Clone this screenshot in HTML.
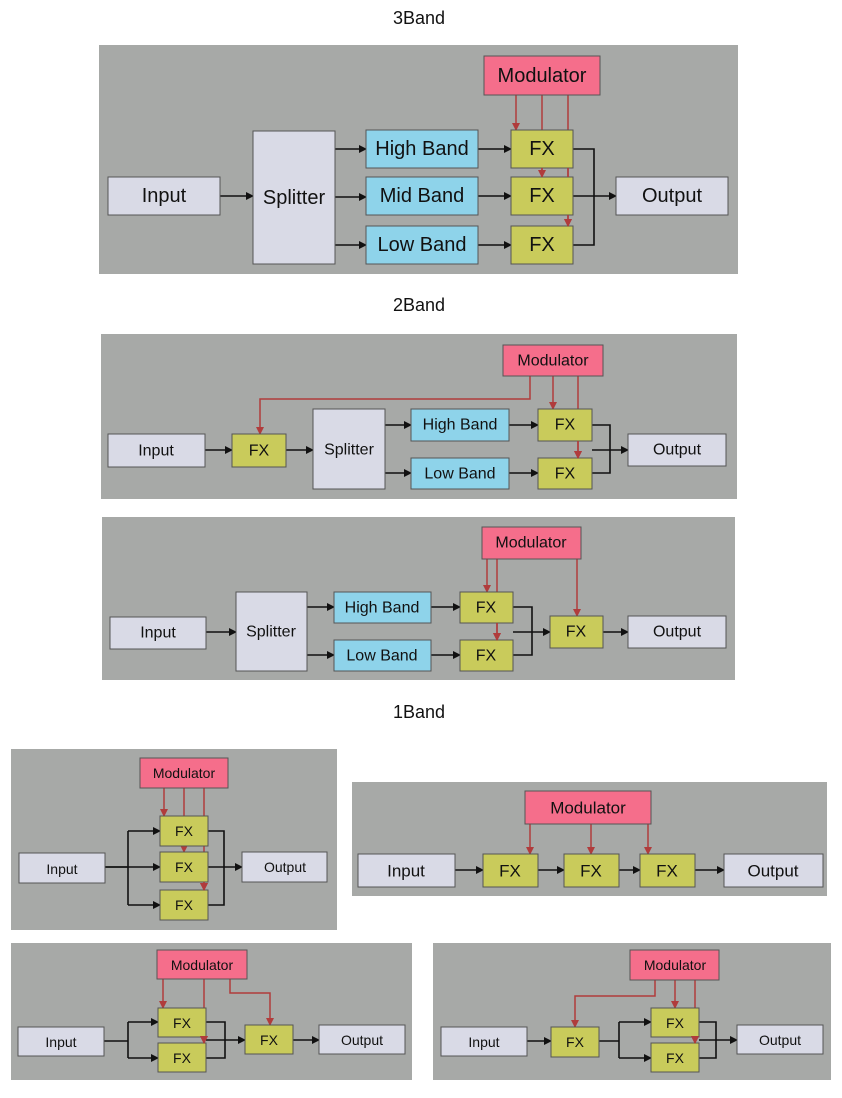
<!DOCTYPE html>
<html><head><meta charset="utf-8"><style>
html,body{margin:0;padding:0;background:#fff}
svg text{font-family:"Liberation Sans",sans-serif;fill:#111;text-anchor:middle;dominant-baseline:central}
.p{fill:#a7a9a7}
.g{fill:#d9dae6;stroke:#555;stroke-width:1}
.b{fill:#8ed3ea;stroke:#555;stroke-width:1}
.y{fill:#c9cb5b;stroke:#555;stroke-width:1}
.m{fill:#f56e8b;stroke:#555;stroke-width:1}
.k{stroke:#111;stroke-width:1.6;fill:none}
.r{stroke:#b03c3c;stroke-width:1.5;fill:none}
</style></head><body>
<svg width="842" height="1093" viewBox="0 0 842 1093" xmlns="http://www.w3.org/2000/svg">
<defs>
<marker id="ak" markerWidth="8" markerHeight="8" refX="7" refY="4" orient="auto" markerUnits="userSpaceOnUse"><path d="M0,0 L8,4 L0,8 z" fill="#111"/></marker>
<marker id="ar" markerWidth="8" markerHeight="8" refX="7" refY="4" orient="auto" markerUnits="userSpaceOnUse"><path d="M0,0 L8,4 L0,8 z" fill="#b03c3c"/></marker>
</defs>

<text x="419" y="18" style="font-size:18px">3Band</text>
<text x="419" y="305" style="font-size:18px">2Band</text>
<text x="419" y="712" style="font-size:18px">1Band</text>

<!-- Panel 1 -->
<rect class="p" x="99" y="45" width="639" height="229"/>
<g class="k" marker-end="url(#ak)">
<path d="M220,196 H253"/><path d="M335,149 H366"/><path d="M335,197 H366"/><path d="M335,245 H366"/>
<path d="M478,149 H511"/><path d="M478,196 H511"/><path d="M478,245 H511"/>
<path d="M573,196 H616"/>
</g>
<path class="k" d="M573,149 H594 V245 H573"/>
<g class="r" marker-end="url(#ar)"><path d="M516,95 V130"/><path d="M542,95 V177"/><path d="M568,95 V226"/></g>
<rect class="m" x="484" y="56" width="116" height="39"/><text x="542" y="76" style="font-size:20px">Modulator</text>
<rect class="g" x="108" y="177" width="112" height="38"/><text x="164" y="196" style="font-size:20px">Input</text>
<rect class="g" x="253" y="131" width="82" height="133"/><text x="294" y="198" style="font-size:20px">Splitter</text>
<rect class="b" x="366" y="130" width="112" height="38"/><text x="422" y="149" style="font-size:20px">High Band</text>
<rect class="b" x="366" y="177" width="112" height="38"/><text x="422" y="196" style="font-size:20px">Mid Band</text>
<rect class="b" x="366" y="226" width="112" height="38"/><text x="422" y="245" style="font-size:20px">Low Band</text>
<rect class="y" x="511" y="130" width="62" height="38"/><text x="542" y="149" style="font-size:20px">FX</text>
<rect class="y" x="511" y="177" width="62" height="38"/><text x="542" y="196" style="font-size:20px">FX</text>
<rect class="y" x="511" y="226" width="62" height="38"/><text x="542" y="245" style="font-size:20px">FX</text>
<path class="r" d="M542,168 V177"/><path class="r" d="M568,168 V177 M568,215 V226" marker-end="url(#ar)"/>
<rect class="g" x="616" y="177" width="112" height="38"/><text x="672" y="196" style="font-size:20px">Output</text>

<!-- Panel 2 -->
<rect class="p" x="101" y="334" width="636" height="165"/>
<g class="k" marker-end="url(#ak)">
<path d="M205,450 H232"/><path d="M286,450 H313"/><path d="M385,425 H411"/><path d="M385,473 H411"/>
<path d="M509,425 H538"/><path d="M509,473 H538"/><path d="M592,450 H628"/>
</g>
<path class="k" d="M592,425 H610 V473 H592"/>
<g class="r" marker-end="url(#ar)"><path d="M530,376 V399 H260 V434"/><path d="M553,376 V409"/><path d="M578,376 V458"/></g>
<rect class="m" x="503" y="345" width="100" height="31"/><text x="553" y="361" style="font-size:16px">Modulator</text>
<rect class="g" x="108" y="434" width="97" height="33"/><text x="156" y="451" style="font-size:16px">Input</text>
<rect class="y" x="232" y="434" width="54" height="33"/><text x="259" y="451" style="font-size:16px">FX</text>
<rect class="g" x="313" y="409" width="72" height="80"/><text x="349" y="450" style="font-size:16px">Splitter</text>
<rect class="b" x="411" y="409" width="98" height="32"/><text x="460" y="425" style="font-size:16px">High Band</text>
<rect class="b" x="411" y="458" width="98" height="31"/><text x="460" y="474" style="font-size:16px">Low Band</text>
<rect class="y" x="538" y="409" width="54" height="32"/><text x="565" y="425" style="font-size:16px">FX</text>
<rect class="y" x="538" y="458" width="54" height="31"/><text x="565" y="474" style="font-size:16px">FX</text>
<path class="r" d="M578,441 V458" marker-end="url(#ar)"/>
<rect class="g" x="628" y="434" width="98" height="32"/><text x="677" y="450" style="font-size:16px">Output</text>

<!-- Panel 3 -->
<rect class="p" x="102" y="517" width="633" height="163"/>
<g class="k" marker-end="url(#ak)">
<path d="M206,632 H236"/><path d="M307,607 H334"/><path d="M307,655 H334"/>
<path d="M431,607 H460"/><path d="M431,655 H460"/><path d="M513,632 H550"/><path d="M603,632 H628"/>
</g>
<path class="k" d="M513,607 H532 V655 H513"/>
<g class="r" marker-end="url(#ar)"><path d="M487,559 V592"/><path d="M497,559 V640"/><path d="M577,559 V616"/></g>
<rect class="m" x="482" y="527" width="99" height="32"/><text x="531" y="543" style="font-size:16px">Modulator</text>
<rect class="g" x="110" y="617" width="96" height="32"/><text x="158" y="633" style="font-size:16px">Input</text>
<rect class="g" x="236" y="592" width="71" height="79"/><text x="271" y="632" style="font-size:16px">Splitter</text>
<rect class="b" x="334" y="592" width="97" height="31"/><text x="382" y="608" style="font-size:16px">High Band</text>
<rect class="b" x="334" y="640" width="97" height="31"/><text x="382" y="656" style="font-size:16px">Low Band</text>
<rect class="y" x="460" y="592" width="53" height="31"/><text x="486" y="608" style="font-size:16px">FX</text>
<rect class="y" x="460" y="640" width="53" height="31"/><text x="486" y="656" style="font-size:16px">FX</text>
<path class="r" d="M497,623 V640" marker-end="url(#ar)"/>
<rect class="y" x="550" y="616" width="53" height="32"/><text x="576" y="632" style="font-size:16px">FX</text>
<rect class="g" x="628" y="616" width="98" height="32"/><text x="677" y="632" style="font-size:16px">Output</text>

<!-- Panel 4 -->
<rect class="p" x="11" y="749" width="326" height="181"/>
<path class="k" d="M105,867 H128 M128,831 V905"/>
<g class="k" marker-end="url(#ak)">
<path d="M128,831 H160"/><path d="M105,867 H160"/><path d="M128,905 H160"/><path d="M208,867 H242"/>
</g>
<path class="k" d="M208,831 H224 V905 H208"/>
<g class="r" marker-end="url(#ar)"><path d="M164,788 V816"/><path d="M184,788 V852"/><path d="M204,788 V890"/></g>
<rect class="m" x="140" y="758" width="88" height="30"/><text x="184" y="773" style="font-size:14px">Modulator</text>
<rect class="g" x="19" y="853" width="86" height="30"/><text x="62" y="869" style="font-size:14px">Input</text>
<rect class="y" x="160" y="816" width="48" height="30"/><text x="184" y="831" style="font-size:14px">FX</text>
<rect class="y" x="160" y="852" width="48" height="30"/><text x="184" y="867" style="font-size:14px">FX</text>
<rect class="y" x="160" y="890" width="48" height="30"/><text x="184" y="905" style="font-size:14px">FX</text>
<path class="r" d="M204,882 V890" marker-end="url(#ar)"/>
<rect class="g" x="242" y="852" width="85" height="30"/><text x="285" y="867" style="font-size:14px">Output</text>

<!-- Panel 5 -->
<rect class="p" x="352" y="782" width="475" height="114"/>
<g class="k" marker-end="url(#ak)">
<path d="M455,870 H483"/><path d="M538,870 H564"/><path d="M619,870 H640"/><path d="M695,870 H724"/>
</g>
<g class="r" marker-end="url(#ar)"><path d="M530,824 V854"/><path d="M591,824 V854"/><path d="M648,824 V854"/></g>
<rect class="m" x="525" y="791" width="126" height="33"/><text x="588" y="808" style="font-size:17px">Modulator</text>
<rect class="g" x="358" y="854" width="97" height="33"/><text x="406" y="871" style="font-size:17px">Input</text>
<rect class="y" x="483" y="854" width="55" height="33"/><text x="510" y="871" style="font-size:17px">FX</text>
<rect class="y" x="564" y="854" width="55" height="33"/><text x="591" y="871" style="font-size:17px">FX</text>
<rect class="y" x="640" y="854" width="55" height="33"/><text x="667" y="871" style="font-size:17px">FX</text>
<rect class="g" x="724" y="854" width="99" height="33"/><text x="773" y="871" style="font-size:17px">Output</text>

<!-- Panel 6 -->
<rect class="p" x="11" y="943" width="401" height="137"/>
<path class="k" d="M104,1041 H128 M128,1022 V1058"/>
<g class="k" marker-end="url(#ak)">
<path d="M128,1022 H158"/><path d="M128,1058 H158"/><path d="M206,1040 H245"/><path d="M293,1040 H319"/>
</g>
<path class="k" d="M206,1022 H225 V1058 H206"/>
<g class="r" marker-end="url(#ar)"><path d="M163,979 V1008"/><path d="M204,979 V1043"/><path d="M230,979 V993 H270 V1025"/></g>
<rect class="m" x="157" y="950" width="90" height="29"/><text x="202" y="965" style="font-size:14px">Modulator</text>
<rect class="g" x="18" y="1027" width="86" height="29"/><text x="61" y="1042" style="font-size:14px">Input</text>
<rect class="y" x="158" y="1008" width="48" height="29"/><text x="182" y="1023" style="font-size:14px">FX</text>
<rect class="y" x="158" y="1043" width="48" height="29"/><text x="182" y="1058" style="font-size:14px">FX</text>
<path class="r" d="M204,1037 V1043" marker-end="url(#ar)"/>
<rect class="y" x="245" y="1025" width="48" height="29"/><text x="269" y="1040" style="font-size:14px">FX</text>
<rect class="g" x="319" y="1025" width="86" height="29"/><text x="362" y="1040" style="font-size:14px">Output</text>

<!-- Panel 7 -->
<rect class="p" x="433" y="943" width="398" height="137"/>
<path class="k" d="M599,1041 H619 M619,1022 V1058"/>
<g class="k" marker-end="url(#ak)">
<path d="M527,1041 H551"/><path d="M619,1022 H651"/><path d="M619,1058 H651"/><path d="M699,1040 H737"/>
</g>
<path class="k" d="M699,1022 H716 V1058 H699"/>
<g class="r" marker-end="url(#ar)"><path d="M655,980 V996 H575 V1027"/><path d="M675,980 V1008"/><path d="M695,980 V1043"/></g>
<rect class="m" x="630" y="950" width="89" height="30"/><text x="675" y="965" style="font-size:14px">Modulator</text>
<rect class="g" x="441" y="1027" width="86" height="29"/><text x="484" y="1042" style="font-size:14px">Input</text>
<rect class="y" x="551" y="1027" width="48" height="30"/><text x="575" y="1042" style="font-size:14px">FX</text>
<rect class="y" x="651" y="1008" width="48" height="29"/><text x="675" y="1023" style="font-size:14px">FX</text>
<rect class="y" x="651" y="1043" width="48" height="29"/><text x="675" y="1058" style="font-size:14px">FX</text>
<path class="r" d="M695,1037 V1043" marker-end="url(#ar)"/>
<rect class="g" x="737" y="1025" width="86" height="29"/><text x="780" y="1040" style="font-size:14px">Output</text>
</svg>
</body></html>
